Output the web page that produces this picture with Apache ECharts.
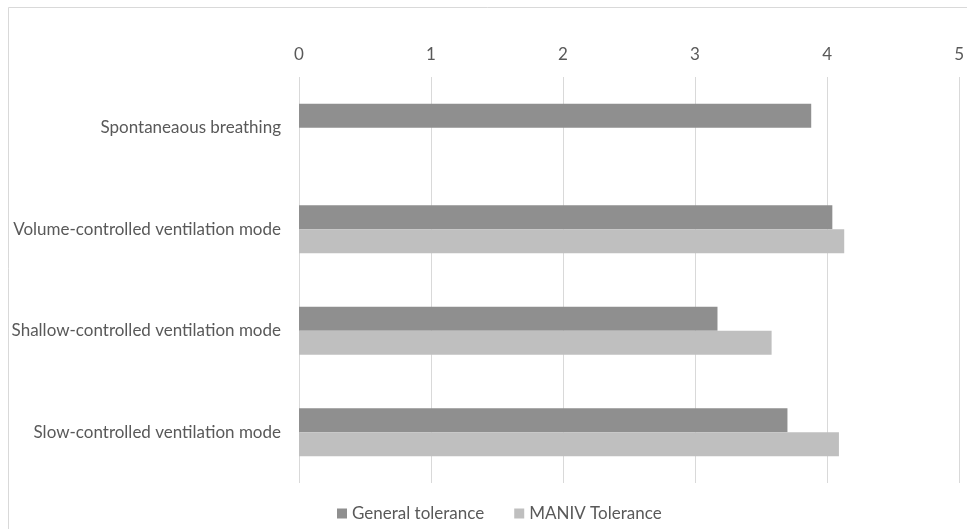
<!DOCTYPE html>
<html>
<head>
<meta charset="utf-8">
<script src="https://cdn.jsdelivr.net/npm/echarts@6/dist/echarts.min.js"></script>
<style>
  html, body { margin: 0; padding: 0; background: #fff; }
  #chart { width: 967px; height: 529px; }
</style>
</head>
<body>
<div id="chart"></div>
<script>
// Tolerance scores by breathing / ventilation mode
const categories = [
  'Spontaneaous breathing',
  'Volume-controlled ventilation mode',
  'Shallow-controlled ventilation mode',
  'Slow-controlled ventilation mode'
];
const generalTolerance = [3.88, 4.04, 3.17, 3.70];
const manivTolerance = [null, 4.13, 3.58, 4.09];
const seriesNames = ['General tolerance', 'MANIV Tolerance'];
const axisMin = 0;
const axisMax = 5;
const axisStep = 1;

const FONT = 'Lato, "Open Sans", sans-serif';
const TEXT = '#595959';

const chart = echarts.init(document.getElementById('chart'), null, { renderer: 'canvas' });

chart.setOption({
  backgroundColor: '#ffffff',
  animation: false,
  textStyle: { fontFamily: FONT },
  graphic: [
    // outer frame (top and left edges)
    { type: 'line', shape: { x1: 8.5, y1: 7.5, x2: 967, y2: 7.5 }, style: { stroke: '#d9d9d9', lineWidth: 1 } },
    { type: 'line', shape: { x1: 8.5, y1: 7.5, x2: 8.5, y2: 529 }, style: { stroke: '#d9d9d9', lineWidth: 1 } }
  ],
  grid: { left: 299, right: 5, top: 77, bottom: 46, containLabel: false },
  legend: {
    left: 332,
    top: 500,
    itemWidth: 10,
    itemHeight: 10,
    itemGap: 30,
    icon: 'rect',
    textStyle: { color: TEXT, fontSize: 17, fontFamily: FONT },
    data: seriesNames
  },
  xAxis: {
    type: 'value',
    position: 'top',
    min: axisMin,
    max: axisMax,
    interval: axisStep,
    axisLine: { show: false },
    axisTick: { show: false },
    axisLabel: { color: TEXT, fontSize: 17, margin: 14, fontFamily: FONT },
    splitLine: { show: true, lineStyle: { color: '#d9d9d9', width: 1 } }
  },
  yAxis: {
    type: 'category',
    inverse: true,
    data: categories,
    axisLine: { show: false },
    axisTick: { show: false },
    axisLabel: { color: TEXT, fontSize: 17, margin: 18, fontFamily: FONT },
    splitLine: { show: false }
  },
  series: [
    {
      name: seriesNames[0],
      type: 'bar',
      data: generalTolerance,
      barWidth: 24,
      barGap: '0%',
      itemStyle: { color: '#8f8f8f' }
    },
    {
      name: seriesNames[1],
      type: 'bar',
      data: manivTolerance,
      barWidth: 24,
      barGap: '0%',
      itemStyle: { color: '#bfbfbf' }
    }
  ]
});
</script>
</body>
</html>
